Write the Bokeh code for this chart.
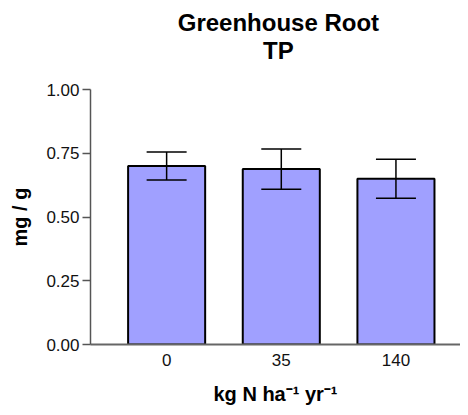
from bokeh.plotting import figure
from bokeh.layouts import column
from bokeh.models import ColumnDataSource, Whisker, TeeHead, FixedTicker, Range1d
from bokeh.core.properties import value
from bokeh.embed import file_html
from bokeh.resources import INLINE

# ---- data ----
categories = ["0", "35", "140"]
means = [0.700, 0.688, 0.650]
errors = [0.055, 0.079, 0.076]
y_ticks = [0.0, 0.25, 0.5, 0.75, 1.0]
y_tick_labels = ["0.00", "0.25", "0.50", "0.75", "1.00"]
title_lines = ["Greenhouse Root", "TP"]

xs = [i + 1 for i in range(len(categories))]
src = ColumnDataSource(dict(
    x=xs, top=means,
    upper=[m + e for m, e in zip(means, errors)],
    lower=[m - e for m, e in zip(means, errors)],
))

FONT = "Liberation Sans"
W = 460
TITLE_H = 79
LEFT = 90

xr = Range1d(0.336, 3.563)

# ---- title strip (shares the chart's x range; y in pixels) ----
t = figure(width=W, height=TITLE_H, output_backend="svg", toolbar_location=None,
           x_range=xr, y_range=(0, TITLE_H), x_axis_type=None, y_axis_type=None)
t.min_border_left = LEFT
t.min_border_right = 0
t.min_border_top = 0
t.min_border_bottom = 0
t.outline_line_color = None
t.xgrid.visible = False
t.ygrid.visible = False
t.text(x=[1.975, 1.975], y=[TITLE_H - 22, TITLE_H - 50], text=title_lines,
       text_align="center", text_baseline="alphabetic",
       text_font=value(FONT), text_font_size="24px", text_font_style="bold",
       text_color="black")

# ---- main chart ----
p = figure(width=W, height=407 - TITLE_H, output_backend="svg", toolbar_location=None,
           x_range=xr, y_range=(0, 1.0))
p.min_border_left = LEFT
p.min_border_right = 0
p.min_border_top = 10
p.min_border_bottom = 63
p.outline_line_color = None
p.xgrid.visible = False
p.ygrid.visible = False
p.background_fill_color = "white"
p.border_fill_color = "white"

p.vbar(x="x", top="top", bottom=0, width=0.672, source=src,
       fill_color="#a0a0ff", line_color="black", line_width=2)

w = Whisker(source=src, base="x", upper="upper", lower="lower",
            line_color="black", line_width=1.5, level="overlay",
            upper_head=TeeHead(size=40, line_color="black", line_width=1.5),
            lower_head=TeeHead(size=40, line_color="black", line_width=1.5))
p.add_layout(w)

# y axis
ya = p.yaxis[0]
ya.ticker = FixedTicker(ticks=y_ticks)
ya.major_label_overrides = {t_: l for t_, l in zip(y_ticks, y_tick_labels)}
ya.minor_tick_line_color = None
ya.major_tick_in = 0
ya.major_tick_out = 8
ya.major_label_standoff = 3
ya.axis_line_color = "#555555"
ya.axis_line_width = 1.5
ya.major_tick_line_color = "#555555"
ya.major_tick_line_width = 1.5
ya.major_label_text_font = FONT
ya.major_label_text_font_size = "17px"
ya.major_label_text_color = "#111111"
ya.axis_label = "mg / g"
ya.axis_label_text_font = FONT
ya.axis_label_text_font_size = "20px"
ya.axis_label_text_font_style = "bold"
ya.axis_label_text_color = "black"
ya.axis_label_standoff = 12

# x axis
xa = p.xaxis[0]
xa.ticker = FixedTicker(ticks=xs)
xa.major_label_overrides = {x: c for x, c in zip(xs, categories)}
xa.minor_tick_line_color = None
xa.major_tick_line_color = None
xa.major_tick_in = 0
xa.major_tick_out = 0
xa.major_label_standoff = 9
xa.axis_line_color = "#666666"
xa.axis_line_width = 2
xa.major_label_text_font = FONT
xa.major_label_text_font_size = "17px"
xa.major_label_text_color = "#111111"
xa.axis_label = "kg N ha\u207b\u00b9 yr\u207b\u00b9"
xa.axis_label_text_font = FONT
xa.axis_label_text_font_size = "20px"
xa.axis_label_text_font_style = "bold"
xa.axis_label_text_color = "black"
xa.axis_label_standoff = 14

layout = column(t, p, spacing=0)
open("out.html", "w").write(file_html(layout, INLINE))
